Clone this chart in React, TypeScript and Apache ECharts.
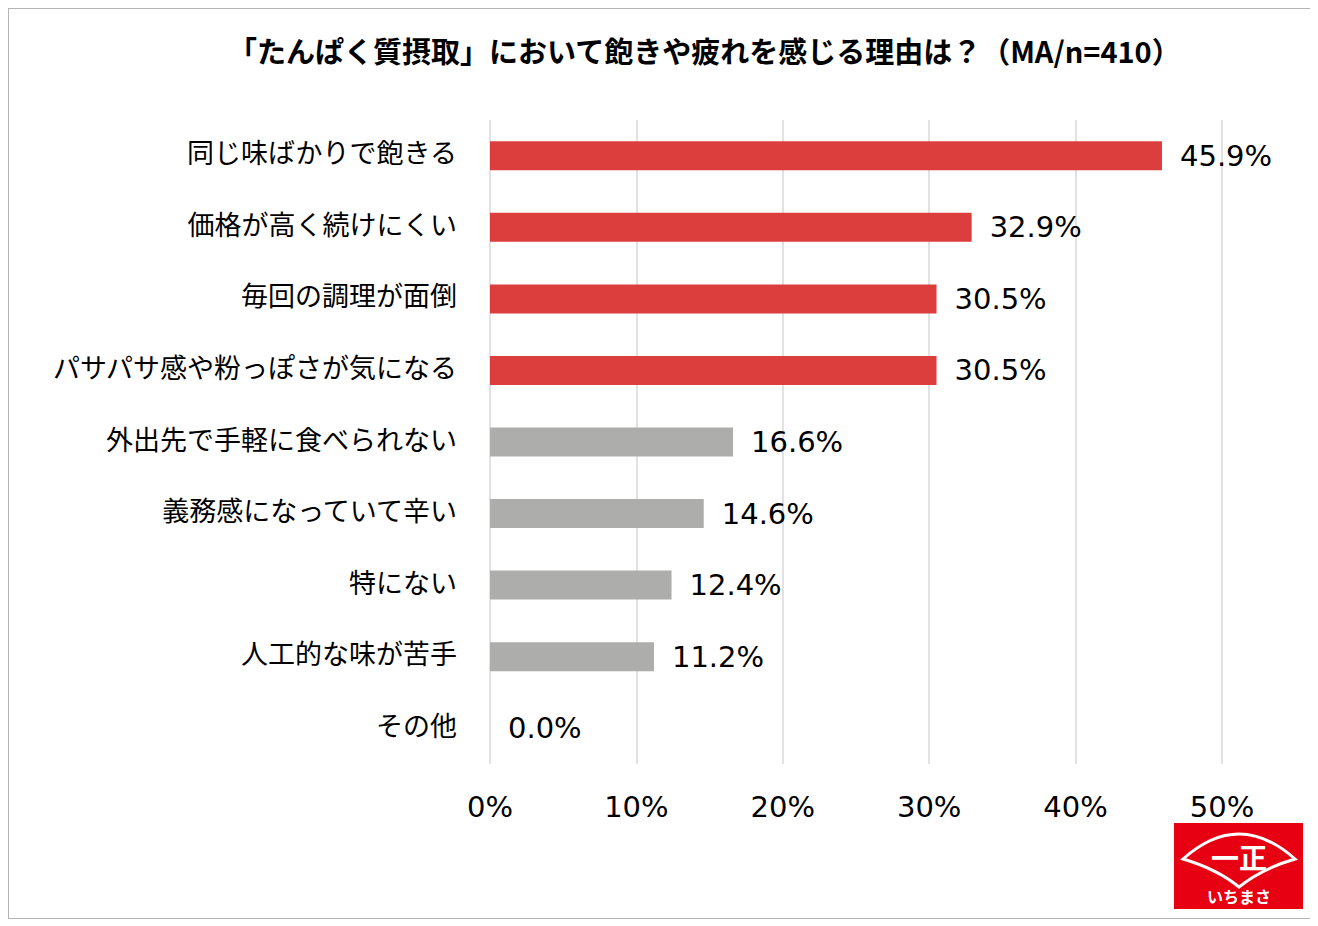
import { useEffect, useRef } from 'react'
import * as echarts from 'echarts'

// 回答項目（上から順）
const categories = [
  '同じ味ばかりで飽きる',
  '価格が高く続けにくい',
  '毎回の調理が面倒',
  'パサパサ感や粉っぽさが気になる',
  '外出先で手軽に食べられない',
  '義務感になっていて辛い',
  '特にない',
  '人工的な味が苦手',
  'その他',
]

// 割合（%）
const values = [45.9, 32.9, 30.5, 30.5, 16.6, 14.6, 12.4, 11.2, 0.0]

const xTicks = [0, 10, 20, 30, 40, 50]

const titleText = '「たんぱく質摂取」において飽きや疲れを感じる理由は？（MA/n=410）'

const RED = '#DC3D3D'
const GRAY = '#ADADAB'
const highlightCount = 4

// ロゴの扇形
const fanPath = 'M -56 0 Q 0 -50 56 0 Q 22 10 0 28 Q -22 10 -56 0 Z'
echarts.graphic.registerShape('fanLogo', echarts.graphic.extendPath(fanPath, {}) as any)

export default function App() {
  const chartRef = useRef<HTMLDivElement>(null)

  useEffect(() => {
    if (!chartRef.current) return
    const chart = echarts.init(chartRef.current, undefined, { renderer: 'svg' })

    const option: echarts.EChartsOption = {
      animation: false,
      backgroundColor: '#fff',
      title: {
        text: titleText,
        left: 214,
        top: 21,
        textStyle: {
          fontFamily: '"Noto Sans CJK JP", sans-serif',
          fontWeight: 'bold',
          fontSize: 29,
          color: '#000',
        },
      },
      grid: {
        left: 481,
        right: 88,
        top: 111,
        bottom: 154,
      },
      xAxis: {
        type: 'value',
        min: xTicks[0],
        max: xTicks[xTicks.length - 1],
        interval: 10,
        axisLine: { show: false },
        axisTick: { show: false },
        axisLabel: {
          margin: 28,
          formatter: '{value}%',
          fontFamily: '"DejaVu Sans", Verdana, sans-serif',
          fontSize: 29,
          color: '#000',
        },
        splitLine: { lineStyle: { color: '#d9d9d9', width: 1.5 } },
      },
      yAxis: {
        type: 'category',
        inverse: true,
        data: categories,
        axisLine: { show: false },
        axisTick: { show: false },
        axisLabel: {
          margin: 33,
          verticalAlign: 'bottom',
          lineHeight: 8,
          fontFamily: '"Noto Sans CJK JP", sans-serif',
          fontSize: 27,
          color: '#000',
        },
      },
      series: [
        {
          type: 'bar',
          data: values.map((v, i) => ({
            value: v,
            itemStyle: { color: i < highlightCount ? RED : GRAY },
          })),
          barWidth: 29,
          label: {
            show: true,
            position: 'right',
            distance: 18,
            formatter: (p: any) => `${Number(p.value).toFixed(1)}%`,
            fontFamily: '"DejaVu Sans", Verdana, sans-serif',
            fontSize: 29,
            color: '#000',
          },
        },
      ],
      graphic: [
        {
          type: 'group',
          left: 1165,
          top: 814,
          children: [
            {
              type: 'rect',
              shape: { x: 0, y: 0, width: 129, height: 86 },
              style: { fill: '#E60012' },
            },
            {
              type: 'fanLogo',
              x: 65,
              y: 36,
              style: { fill: 'none', stroke: '#fff', lineWidth: 3 },
            } as any,
            {
              type: 'text',
              x: 65,
              y: 34,
              style: {
                text: '一正',
                fill: '#fff',
                fontSize: 28,
                fontWeight: 'bold',
                fontFamily: '"Noto Sans CJK JP", sans-serif',
                align: 'center',
                verticalAlign: 'middle',
              },
            },
            {
              type: 'text',
              x: 65,
              y: 73,
              style: {
                text: 'いちまさ',
                fill: '#fff',
                fontSize: 16,
                fontWeight: 'bold',
                fontFamily: '"Noto Sans CJK JP", sans-serif',
                align: 'center',
                verticalAlign: 'middle',
              },
            },
          ],
        },
      ],
    }

    chart.setOption(option)
    return () => chart.dispose()
  }, [])

  return (
    <div style={{ width: 1303, height: 911, border: '1px solid #b4b4b4', boxSizing: 'border-box' }}>
      <div ref={chartRef} style={{ width: 1301, height: 909 }} />
    </div>
  )
}
